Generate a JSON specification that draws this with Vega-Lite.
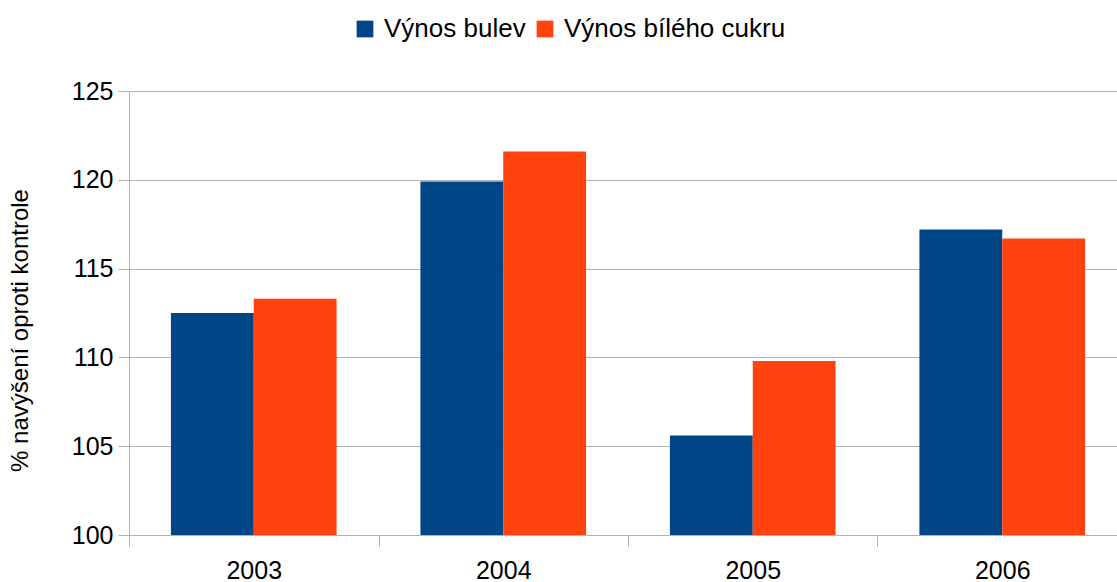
{
  "$schema": "https://vega.github.io/schema/vega-lite/v6.json",
  "width": 998,
  "height": 444,
  "autosize": {"type": "none"},
  "padding": {"left": 129, "top": 91, "right": 0, "bottom": 47},
  "background": "white",
  "config": {
    "font": "Liberation Sans",
    "view": {"stroke": null},
    "axis": {"labelFont": "Liberation Sans", "titleFont": "Liberation Sans"}
  },
  "data": {
    "values": [
      {"rok": "2003", "serie": "Výnos bulev", "hodnota": 112.5},
      {"rok": "2003", "serie": "Výnos bílého cukru", "hodnota": 113.3},
      {"rok": "2004", "serie": "Výnos bulev", "hodnota": 119.9},
      {"rok": "2004", "serie": "Výnos bílého cukru", "hodnota": 121.6},
      {"rok": "2005", "serie": "Výnos bulev", "hodnota": 105.6},
      {"rok": "2005", "serie": "Výnos bílého cukru", "hodnota": 109.8},
      {"rok": "2006", "serie": "Výnos bulev", "hodnota": 117.2},
      {"rok": "2006", "serie": "Výnos bílého cukru", "hodnota": 116.7}
    ]
  },
  "mark": {"type": "bar", "clip": true},
  "encoding": {
    "x": {
      "field": "rok",
      "type": "nominal",
      "scale": {"paddingInner": 0.336, "paddingOuter": 0.168},
      "axis": {
        "title": null,
        "labelAngle": 0,
        "labelFontSize": 25,
        "labelColor": "black",
        "labelPadding": 12,
        "tickOffset": -124.75,
        "labelOffset": 124.75,
        "tickSize": 11,
        "tickColor": "#b3b3b3",
        "domainColor": "#b3b3b3",
        "grid": false
      }
    },
    "xOffset": {"field": "serie", "sort": ["Výnos bulev", "Výnos bílého cukru"]},
    "y": {
      "field": "hodnota",
      "type": "quantitative",
      "scale": {"domain": [100, 125], "zero": false, "nice": false},
      "axis": {
        "title": "% navýšení oproti kontrole",
        "titleFontSize": 24,
        "titleFontWeight": "normal",
        "titleColor": "black",
        "titleX": -109,
        "titleY": 239,
        "titleAngle": -90,
        "titleBaseline": "middle",
        "titleAlign": "center",
        "values": [100, 105, 110, 115, 120, 125],
        "labelFontSize": 25,
        "labelColor": "black",
        "labelPadding": 5,
        "tickSize": 11,
        "tickColor": "#b3b3b3",
        "domainColor": "#b3b3b3",
        "gridColor": "#b3b3b3",
        "gridOpacity": 1
      }
    },
    "y2": {"datum": 100},
    "color": {
      "field": "serie",
      "type": "nominal",
      "scale": {"domain": ["Výnos bulev", "Výnos bílého cukru"], "range": ["#004586", "#ff420e"]},
      "legend": {
        "title": null,
        "orient": "none",
        "direction": "horizontal",
        "legendX": 223,
        "legendY": -75,
        "symbolType": "square",
        "symbolSize": 280,
        "symbolStrokeWidth": 0,
        "labelFontSize": 26,
        "labelLimit": 500,
        "labelColor": "black",
        "labelOffset": 6,
        "columnPadding": 6
      }
    }
  }
}
